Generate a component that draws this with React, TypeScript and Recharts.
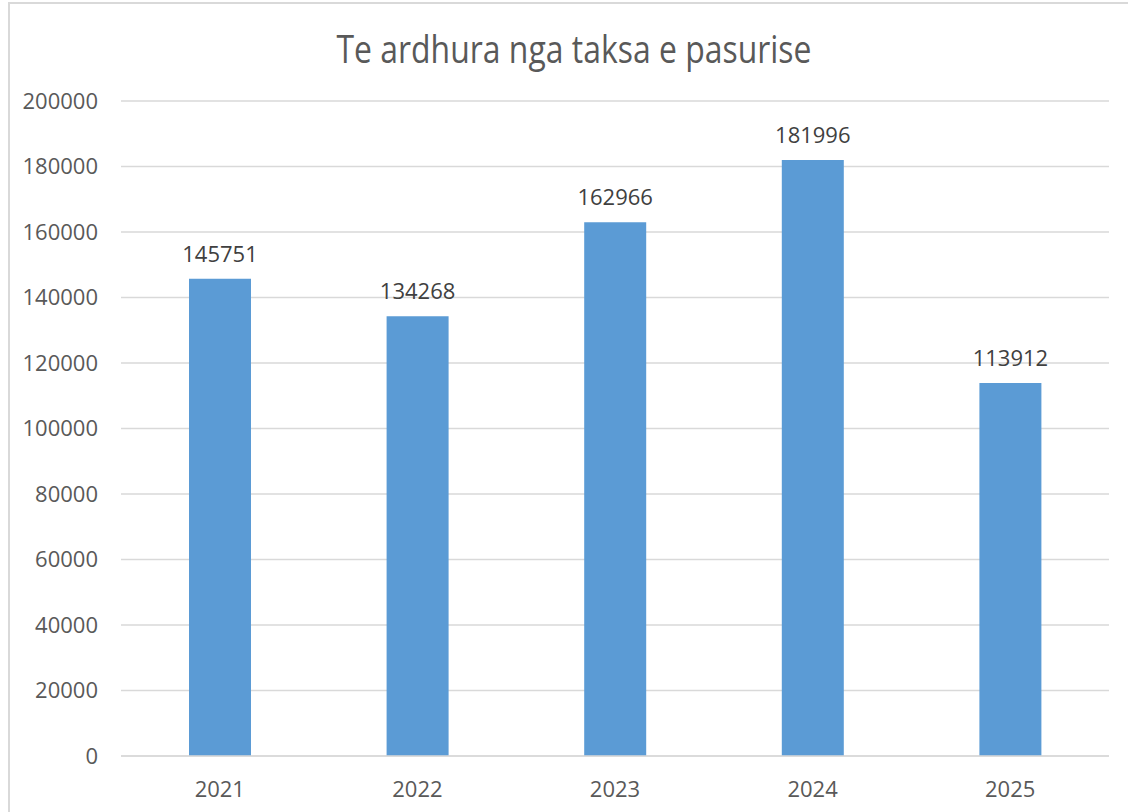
import { BarChart, Bar, XAxis, YAxis, CartesianGrid, LabelList } from 'recharts';

const years = ['2021', '2022', '2023', '2024', '2025'];
const revenue = [145751, 134268, 162966, 181996, 113912];
const yTicks = [0, 20000, 40000, 60000, 80000, 100000, 120000, 140000, 160000, 180000, 200000];
const title = 'Te ardhura nga taksa e pasurise';

const data = years.map((year, i) => ({ year, value: revenue[i] }));

const FONT = "'Open Sans', 'Noto Sans', sans-serif";

function App() {
  return (
    <div
      style={{
        position: 'fixed',
        left: 8,
        top: 2,
        width: 1160,
        height: 840,
        border: '2px solid #d9d9d9',
        background: '#fff',
        fontFamily: FONT,
      }}
    >
      <BarChart width={1140} height={830} data={data} margin={{ top: 97, right: 41, left: 0, bottom: 48 }}>
        <CartesianGrid vertical={false} stroke="#d9d9d9" strokeWidth={1.5} />
        <XAxis
          dataKey="year"
          height={30}
          tickLine={false}
          tickSize={0}
          tickMargin={25}
          axisLine={{ stroke: '#d9d9d9', strokeWidth: 1.5 }}
          tick={{ fill: '#595959', fontSize: 22, fontFamily: FONT }}
        />
        <YAxis
          width={111}
          domain={[0, 200000]}
          ticks={yTicks}
          interval={0}
          axisLine={false}
          tickLine={false}
          tickSize={0}
          tickMargin={23}
          tick={{ fill: '#595959', fontSize: 22, fontFamily: FONT }}
        />
        <Bar dataKey="value" fill="#5b9bd5" barSize={62} isAnimationActive={false}>
          <LabelList dataKey="value" position="top" offset={17} fill="#404040" fontSize={22} fontFamily={FONT} />
        </Bar>
      </BarChart>
      <svg width={1140} height={100} style={{ position: 'absolute', left: 0, top: 0, pointerEvents: 'none' }}>
        <text
          x={564}
          y={59}
          textAnchor="middle"
          fill="#595959"
          fontSize={38}
          fontFamily={FONT}
          textLength={475}
          lengthAdjust="spacingAndGlyphs"
        >
          {title}
        </text>
      </svg>
    </div>
  );
}

export default App;
